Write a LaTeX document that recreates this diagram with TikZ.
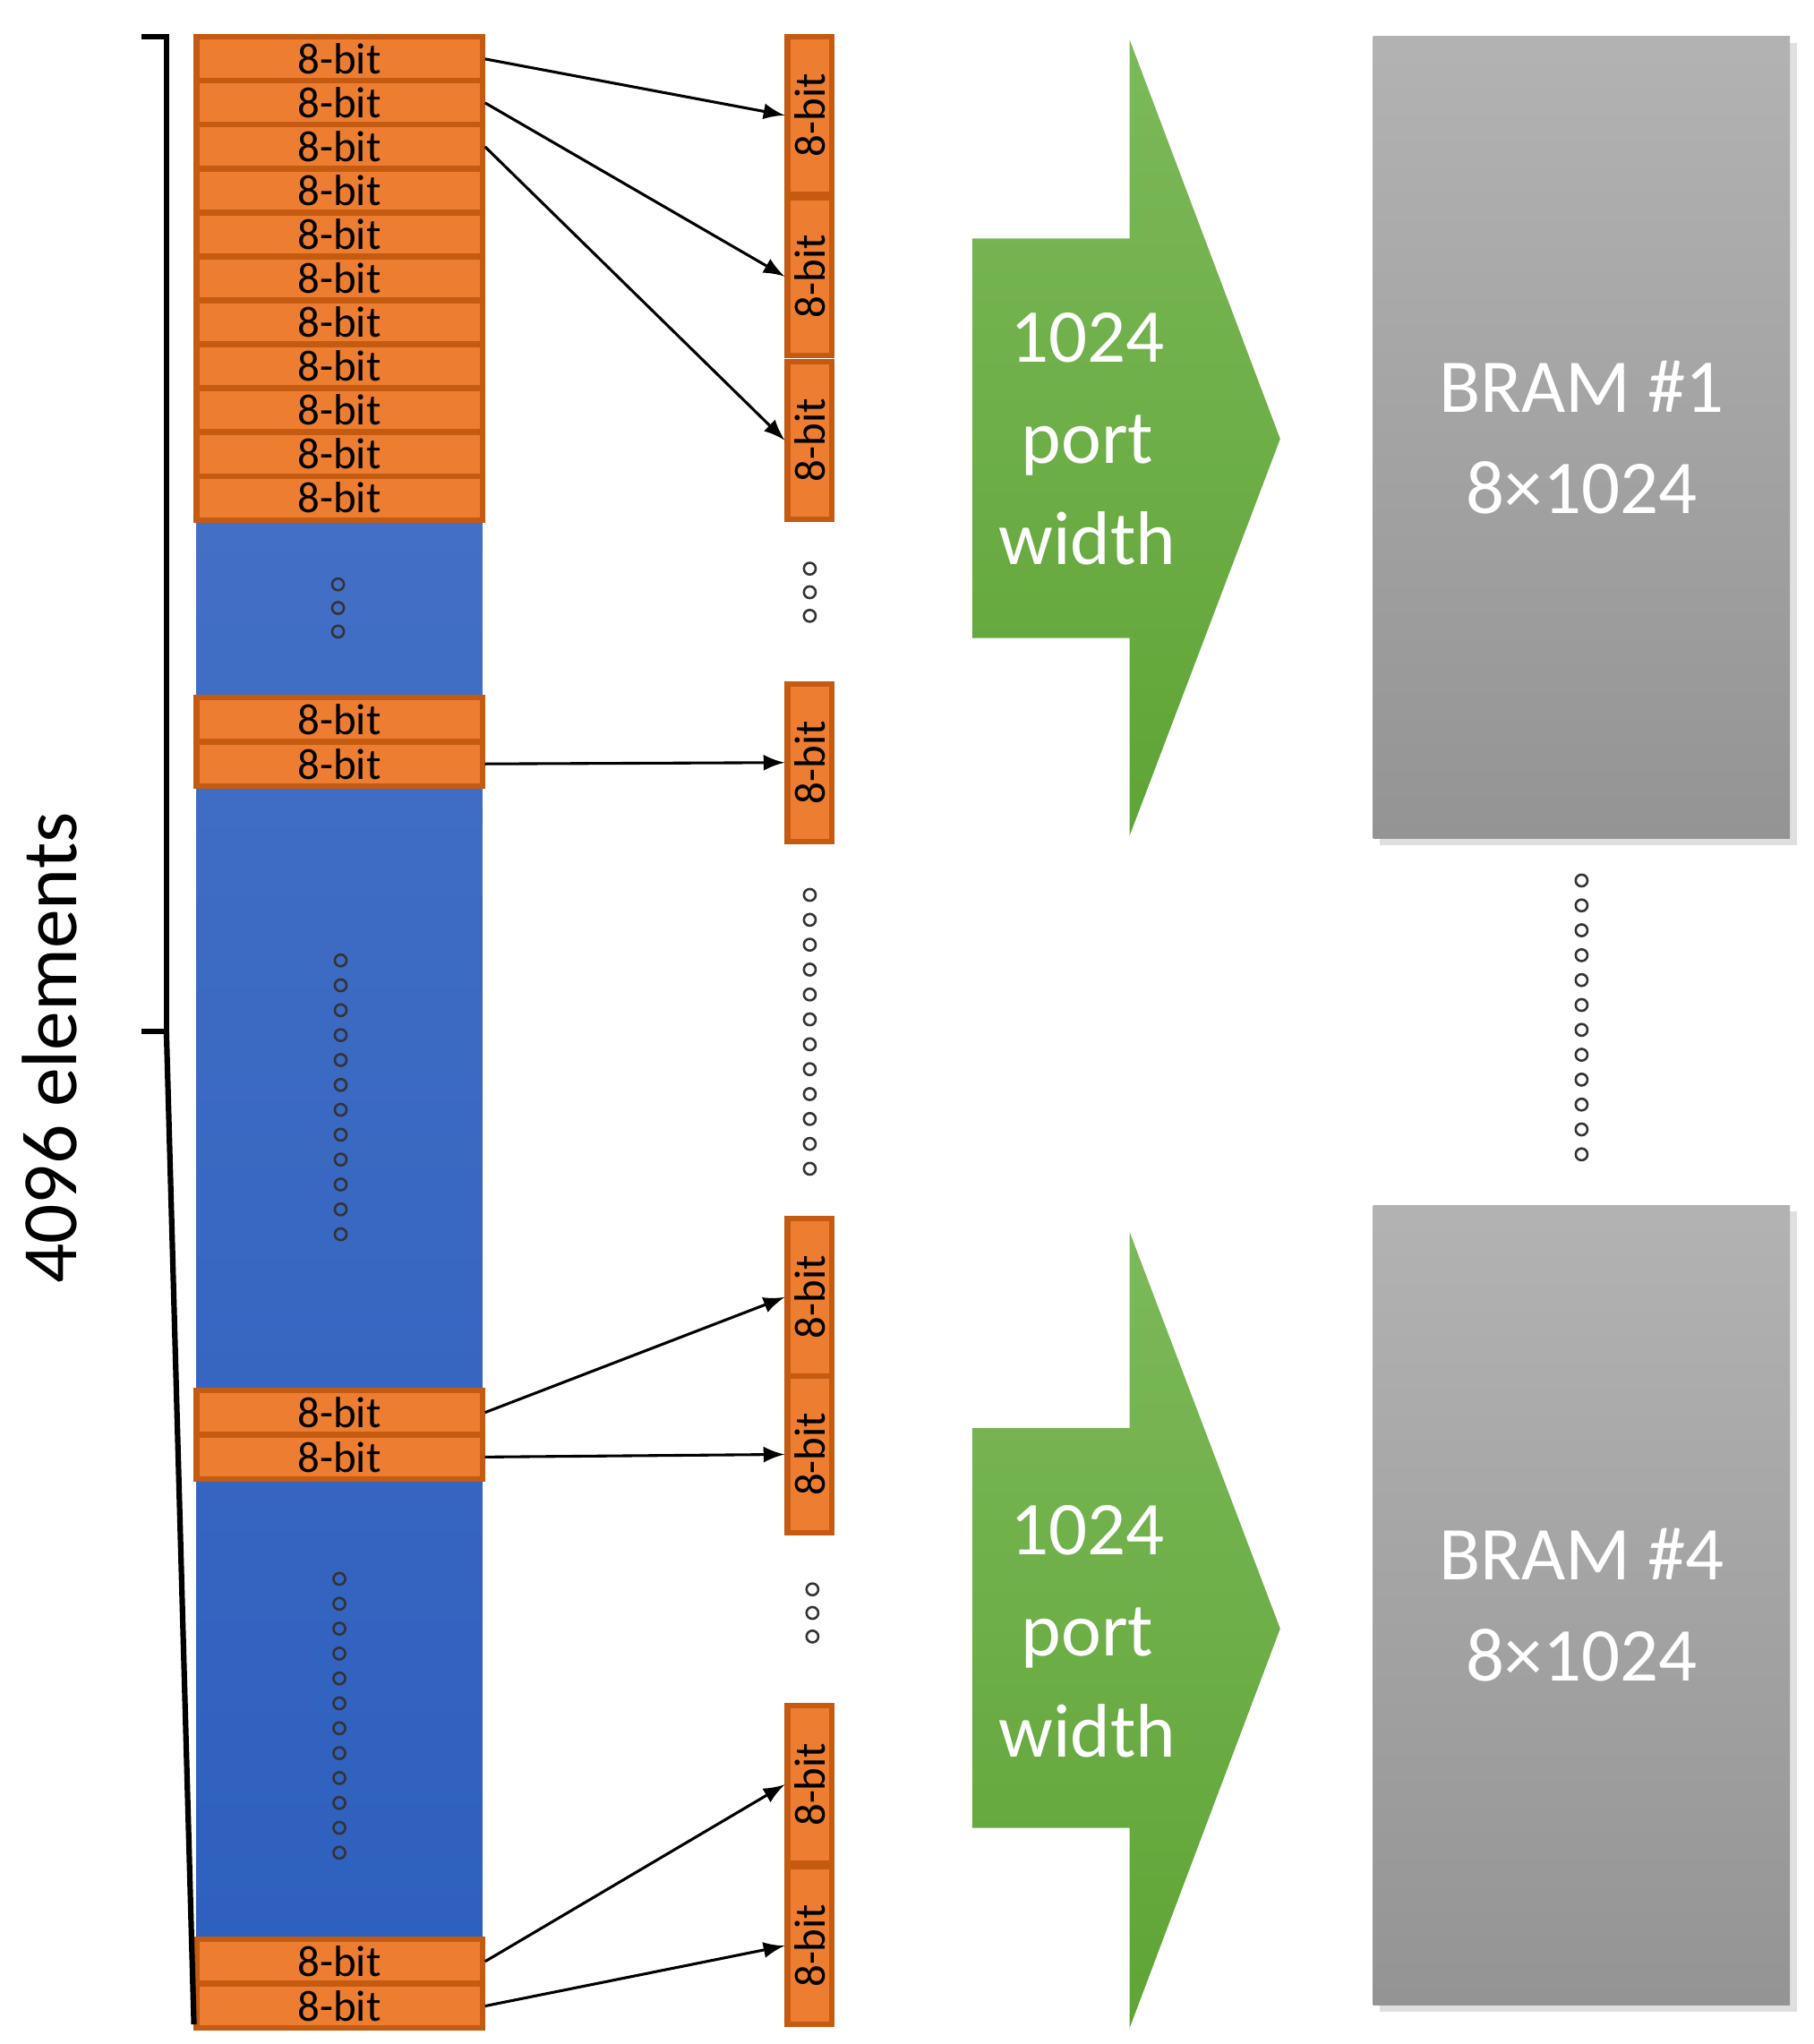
\documentclass[tikz,border=0pt]{standalone}
\usepackage{fontspec}
\setmainfont{Carlito}
\usetikzlibrary{shadows}
\definecolor{cellor}{HTML}{ED7D31}
\definecolor{celled}{HTML}{C55A11}
\definecolor{bluetop}{HTML}{4A75C8}
\definecolor{bluebot}{HTML}{2D5FBE}
\definecolor{greentop}{HTML}{7CB95A}
\definecolor{greenbot}{HTML}{5FA435}
\tikzset{
  cell/.style={draw=celled, fill=cellor, line width=1.2pt, minimum width=2.18cm, minimum height=0.335cm, inner sep=0pt, font=\fontsize{9.5}{9.5}\selectfont},
  vcell/.style={draw=celled, fill=cellor, line width=1.2pt, minimum width=1.2cm, minimum height=0.34cm, inner sep=0pt, rotate=90, font=\fontsize{9.5}{9.5}\selectfont},
  dot/.style={draw=black!80, line width=0.5pt},
  bram/.style={top color=black!30, bottom color=black!42, draw=none, drop shadow={opacity=0.25, shadow xshift=0.05cm, shadow yshift=-0.05cm}, text=white, align=center, font=\fontsize{16.5}{22}\selectfont},
  port/.style={text=white, align=center, font=\fontsize{16.5}{22}\selectfont},
  link/.style={-latex, line width=0.6pt}
}
\begin{document}
\begin{tikzpicture}[x=0.01cm, y=-0.01cm]
	\useasboundingbox (0,0) rectangle (1384,1560);
	% blue column
	\shade[top color=bluetop, bottom color=bluebot] (150,28) rectangle (368,1548);
	% orange cells
	\foreach \i in {0,...,10}
		\node[cell] (a\i) at (259,45+33.5*\i) {8-bit};
	\node[cell] (b0) at (259,549) {8-bit};
	\node[cell] (b1) at (259,583) {8-bit};
	\node[cell] (c0) at (259,1078) {8-bit};
	\node[cell] (c1) at (259,1112) {8-bit};
	\node[cell] (d0) at (259,1497) {8-bit};
	\node[cell] (d1) at (259,1531) {8-bit};
	% dots in the column
	\foreach \y in {446,464,482} \draw[dot] (258,\y) circle (4.5);
	\foreach \k in {0,...,11} \draw[dot] (260,733+19*\k) circle (4.5);
	\foreach \k in {0,...,11} \draw[dot] (259,1205+19*\k) circle (4.5);
	% bracket
	\coordinate (br1) at (108,28);
	\coordinate (br2) at (127,28);
	\coordinate (br3) at (127,787);
	\coordinate (br4) at (108,787);
	\coordinate (br5) at (148,1545);
	\draw[line width=1.2pt] (br1) -- (br2) -- (br3) -- (br4);
	\draw[line width=1.2pt] (br3) -- (br5);
	\node[rotate=90, font=\fontsize{17}{17}\selectfont] (elems) at (38,800) {4096 elements};
	% port cells
	\node[vcell] (p0) at (618,88) {8-bit};
	\node[vcell] (p1) at (618,211) {8-bit};
	\node[vcell] (p2) at (618,336) {8-bit};
	\node[vcell] (p3) at (618,582) {8-bit};
	\node[vcell] (p4) at (618,990) {8-bit};
	\node[vcell] (p5) at (618,1110) {8-bit};
	\node[vcell] (p6) at (618,1362) {8-bit};
	\node[vcell] (p7) at (618,1485) {8-bit};
	\foreach \y in {434,452,470} \draw[dot] (618,\y) circle (4.5);
	\foreach \k in {0,...,11} \draw[dot] (618,683+19*\k) circle (4.5);
	\foreach \y in {1213,1231,1249} \draw[dot] (620,\y) circle (4.5);
	% links
	\draw[link] (a0.east) -- (p0.north);
	\draw[link] (a1.east) -- (p1.north);
	\draw[link] (a2.east) -- (p2.north);
	\draw[link] (b1.east) -- (p3.north);
	\draw[link] (c0.east) -- (p4.north);
	\draw[link] (c1.east) -- (p5.north);
	\draw[link] (d0.east) -- (p6.north);
	\draw[link] (d1.east) -- (p7.north);
	% green arrows
	\shade[top color=greentop, bottom color=greenbot] (742,182) -- (862,182) -- (862,30) -- (977,335) -- (862,638) -- (862,487) -- (742,487) -- cycle;
	\shade[top color=greentop, bottom color=greenbot] (742,1090) -- (862,1090) -- (862,940) -- (977,1243) -- (862,1548) -- (862,1395) -- (742,1395) -- cycle;
	\node[port] (w1) at (830,335) {1024\\port\\width};
	\node[port] (w4) at (830,1245) {1024\\port\\width};
	% BRAMs
	\node[bram, minimum width=3.18cm, minimum height=6.12cm] (bram1) at (1207,334) {BRAM \#1\\8×1024};
	\node[bram, minimum width=3.18cm, minimum height=6.10cm] (bram4) at (1207,1225) {BRAM \#4\\8×1024};
	\foreach \k in {0,...,11} \draw[dot] (1207,672+19*\k) circle (4.5);
\end{tikzpicture}
\end{document}
